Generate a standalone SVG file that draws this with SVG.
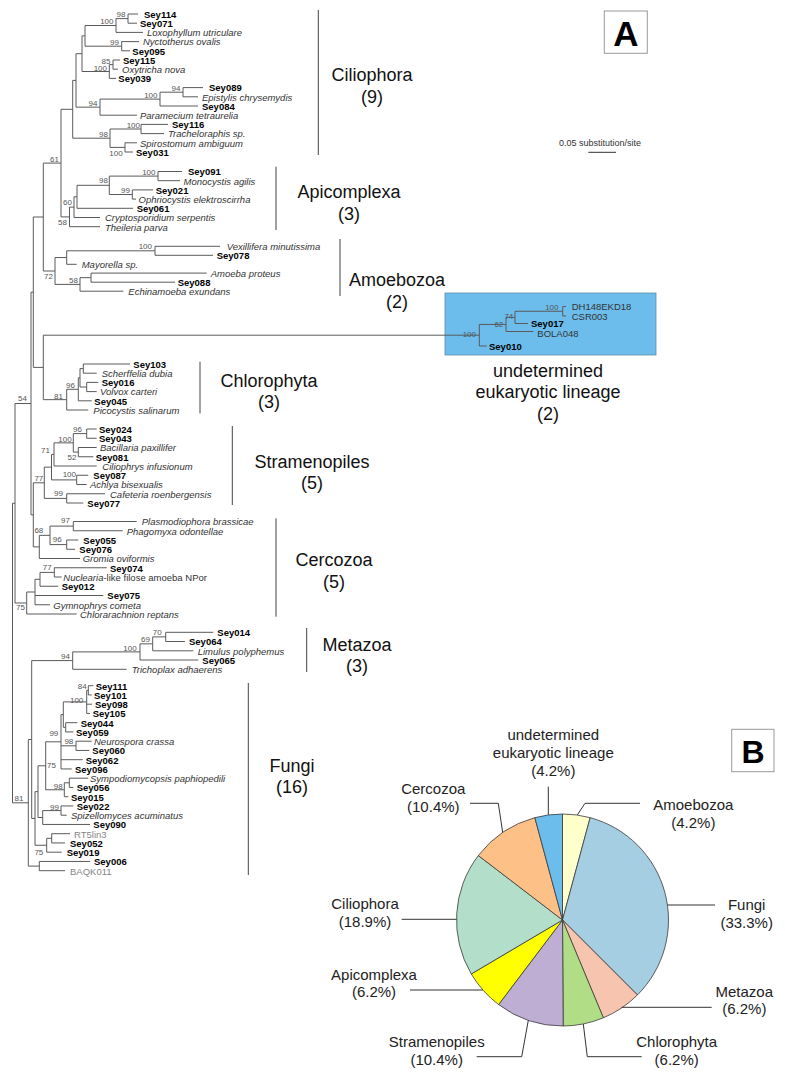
<svg xmlns="http://www.w3.org/2000/svg" width="785" height="1077" viewBox="0 0 785 1077">
<style>
.br{fill:none;stroke:#5a5a5a;stroke-width:1}
.b{font:bold 9.5px "Liberation Sans",Arial,sans-serif;fill:#000}
.i{font:italic 9.5px "Liberation Sans",Arial,sans-serif;fill:#333}
.r{font:9.5px "Liberation Sans",Arial,sans-serif;fill:#333}
.g{font:9.5px "Liberation Sans",Arial,sans-serif;fill:#858585}
.bs{font:8px "Liberation Sans",Arial,sans-serif;fill:#555;text-anchor:end}
.cl{font:18px "Liberation Sans",Arial,sans-serif;fill:#111;text-anchor:middle}
.bar{stroke:#444;stroke-width:1}
.pl{font:15px "Liberation Sans",Arial,sans-serif;fill:#222;text-anchor:middle}
.ld{fill:none;stroke:#333;stroke-width:1}
.sl{stroke:#3a3a3a;stroke-width:0.8}
.pn{fill:#fff;stroke:#999;stroke-width:1}
.pt{font:bold 35px "Liberation Sans",Arial,sans-serif;fill:#000;text-anchor:middle}
</style>
<rect width="785" height="1077" fill="#fff"/>

<!-- undetermined lineage box -->
<rect id="undetermined-box" x="445" y="293" width="211" height="62" fill="#6cbdec" stroke="#5a8fb0" stroke-width="0.8"/>

<!-- connectors: tree branches -->
<g id="branches" class="br">
<path d="M128 14V23.2M128 14H138M128 23.2H137M116 18.6V32.4M116 18.6H128M116 32.4H143M121.7 41.6V50.8M121.7 41.6H139M121.7 50.8H130M85 25.5V46.2M85 25.5H116M85 46.2H121.7M113 60V69.2M113 60H120M113 69.2H118M109.3 64.6V78.4M109.3 64.6H113M109.3 78.4H116M82 35.85V71.5M82 35.85H85M82 71.5H109.3M183 87.6V96.8M183 87.6H203M183 96.8H198M160 92.2V106M160 92.2H183M160 106H198M100 99.1V115.2M100 99.1H160M100 115.2H137M76 53.7V107.15M76 53.7H82M76 107.15H100M141 124.4V133.6M141 124.4H168M141 133.6H164M125 142.8V152M125 142.8H137M125 152H133M110 129V147.4M110 129H141M110 147.4H125M72.7 80.4V138.2M72.7 80.4H76M72.7 138.2H110"/>
<path d="M158 171.5V180.7M158 171.5H182M158 180.7H180M132.3 189.9V199.1M132.3 189.9H153M132.3 199.1H136M109.3 176.1V194.5M109.3 176.1H158M109.3 194.5H132.3M77 185.3V208.3M77 185.3H109.3M77 208.3H133M74 196.8V217.5M74 196.8H77M74 217.5H100M69.5 207.15V226.7M69.5 207.15H74M69.5 226.7H100M61 109.3V216.9M61 109.3H72.7M61 216.9H69.5"/>
<path d="M155 246.3V255.3M155 246.3H220M155 255.3H213M66.7 250.8V264.3M66.7 250.8H155M66.7 264.3H76.7M91 273.1V282.2M91 273.1H206.7M91 282.2H175M80 277.65V291.2M80 277.65H91M80 291.2H123.3M55 257.55V284.4M55 257.55H66.7M55 284.4H80M43.3 163.1V271M43.3 163.1H61M43.3 271H55"/>
<path d="M562.7 306.5V316M562.7 306.5H566M562.7 316H566M515 311.25V323.5M515 311.25H562.7M515 323.5H528M506 317.4V331.5M506 317.4H515M506 331.5H533.3M479.3 324.45V346M479.3 324.45H506M479.3 346H486.7M43.3 335.2V399.65M43.3 335.2H479.3M43.3 399.65H66.7"/>
<path d="M83.3 364V373.2M83.3 364H130M83.3 373.2H96.7M86.7 382.4V391.6M86.7 382.4H98.3M86.7 391.6H96.7M80 368.6V387M80 368.6H83.3M80 387H86.7M78.3 377.8V400.8M78.3 377.8H80M78.3 400.8H91.7M66.7 389.3V410M66.7 389.3H78.3M66.7 410H88.3M33.3 217V367.4M33.3 217H43.3M33.3 367.4H43.3"/>
<path d="M86.7 429V438.25M86.7 429H96.7M86.7 438.25H96.7M78.3 447.5V456.75M78.3 447.5H96.7M78.3 456.75H93.3M73.3 433.6V452.1M73.3 433.6H86.7M73.3 452.1H78.3M54 442.85V466M54 442.85H73.3M54 466H96.7M76.7 475.25V484.5M76.7 475.25H88.3M76.7 484.5H86.7M51.5 454.4V479.9M51.5 454.4H54M51.5 479.9H76.7M66.7 493.75V503M66.7 493.75H105M66.7 503H83.3M44.3 467.15V498.4M44.3 467.15H51.5M44.3 498.4H66.7"/>
<path d="M73.3 521.5V530.75M73.3 521.5H136.7M73.3 530.75H122.7M66.7 540V549.25M66.7 540H78.3M66.7 549.25H75M50 526.1V544.6M50 526.1H73.3M50 544.6H66.7M39.3 535.35V558.5M39.3 535.35H50M39.3 558.5H80M33.3 482.8V546.9M33.3 482.8H44.3M33.3 546.9H39.3M31 292.2V514.85M31 292.2H33.3M31 514.85H33.3M54.3 567.75V577M54.3 567.75H106.7M54.3 577H61.7M40 572.4V586.25M40 572.4H54.3M40 586.25H58.3M35 579.3V604.75M35 579.3H40M35 595.5H103.3M35 604.75H50M26.7 592V614M26.7 592H35M26.7 614H76.7M15 403.5V603M15 403.5H31M15 603H26.7"/>
<path d="M165.7 632.3V641.5M165.7 632.3H213.3M165.7 641.5H185M152.7 636.9V650.8M152.7 636.9H165.7M152.7 650.8H193.3M140 643.85V660M140 643.85H152.7M140 660H198.3M72.7 651.9V669.3M72.7 651.9H140M72.7 669.3H126.7"/>
<path d="M88.3 685.7V694.95M88.3 685.7H93.3M88.3 694.95H91.7M86.7 690.3V713.45M86.7 690.3H88.3M86.7 704.2H92M86.7 713.45H90M65.7 722.7V731.95M65.7 722.7H77.3M65.7 731.95H73.3M63.3 701.9V727.3M63.3 701.9H86.7M63.3 727.3H65.7M76 741.2V750.45M76 741.2H91.7M76 750.45H89.3M61 714.6V768.95M61 714.6H63.3M61 745.8H76M61 759.7H82.7M61 768.95H71.7M69.3 778.2V787.45M69.3 778.2H88.3M69.3 787.45H73.3M64.3 782.8V796.7M64.3 782.8H69.3M64.3 796.7H68.3M45.7 741.8V789.75M45.7 741.8H61M45.7 789.75H64.3M61 805.95V815.2M61 805.95H73.3M61 815.2H66.7M42.7 810.6V824.45M42.7 810.6H61M42.7 824.45H90M38 765.8V817.5M38 765.8H45.7M38 817.5H42.7M51.7 833.7V842.95M51.7 833.7H70M51.7 842.95H65M46.7 838.3V852.2M46.7 838.3H51.7M46.7 852.2H61.7M35 791.65V845.25M35 791.65H38M35 845.25H46.7M39.3 861.45V870.7M39.3 861.45H90M39.3 870.7H65M31.7 660.6V818.45M31.7 660.6H72.7M31.7 818.45H35M28.3 739.5V866.1M28.3 739.5H31.7M28.3 866.1H39.3M12.5 503.25V802.8M12.5 503.25H15M12.5 802.8H28.3"/>
</g>

<!-- bootstrap values -->
<g id="bootstrap" class="bs">
<text x="125.5" y="16.5">98</text><text x="113.5" y="24">100</text><text x="119" y="45">99</text><text x="110.5" y="63.5">85</text><text x="107" y="70.5">100</text><text x="180.5" y="91">94</text><text x="157.5" y="98">100</text><text x="97.5" y="106">94</text><text x="140" y="127.5">100</text><text x="122.7" y="155.5">100</text><text x="108" y="137">98</text><text x="59" y="161.5">61</text>
<text x="155.5" y="174.5">100</text><text x="130" y="192.5">99</text><text x="108" y="183">98</text><text x="72" y="205">60</text><text x="67" y="225">58</text>
<text x="152" y="249">100</text><text x="78" y="283">58</text><text x="53" y="279">72</text>
<text x="558.5" y="310">100</text><text x="513.3" y="318.5">74</text><text x="503.3" y="327">62</text><text x="476" y="336.8">100</text>
<text x="75" y="387.5">96</text><text x="63" y="398.5">81</text><text x="27" y="400.5">54</text>
<text x="82" y="431.5">96</text><text x="71.7" y="441.5">100</text><text x="76.5" y="460">52</text><text x="50" y="453">71</text><text x="76" y="476.5">100</text><text x="63" y="495.5">99</text><text x="43.3" y="481">77</text>
<text x="70" y="522.5">97</text><text x="61.7" y="542">96</text><text x="43.3" y="533">68</text><text x="51.7" y="569.5">77</text><text x="25" y="609.5">75</text>
<text x="161.7" y="634.5">70</text><text x="150" y="641.7">69</text><text x="136.7" y="650.5">100</text><text x="70" y="658.5">94</text>
<text x="86.7" y="689">84</text><text x="83.3" y="702.5">100</text><text x="58.3" y="736">99</text><text x="73.3" y="744.3">98</text><text x="56" y="768">75</text><text x="62.7" y="789.3">98</text><text x="59" y="810">99</text><text x="23.5" y="800.7">81</text><text x="43.3" y="855">75</text>
</g>

<!-- leaves -->
<g id="ciliophora">
<text class="b" x="144" y="17.8">Sey114</text><text class="b" x="140" y="27">Sey071</text><text class="i" x="147" y="36.2">Loxophyllum utriculare</text><text class="i" x="143" y="45.4">Nyctotherus ovalis</text><text class="b" x="132.3" y="54.6">Sey095</text><text class="b" x="123" y="63.8">Sey115</text><text class="i" x="122" y="73">Oxytricha nova</text><text class="b" x="118.3" y="82.2">Sey039</text><text class="b" x="209" y="91.4">Sey089</text><text class="i" x="202" y="100.6">Epistylis chrysemydis</text><text class="b" x="202" y="109.8">Sey084</text><text class="i" x="140" y="119">Paramecium tetraurelia</text><text class="b" x="172" y="128.2">Sey116</text><text class="i" x="168" y="137.4">Tracheloraphis sp.</text><text class="i" x="140" y="146.6">Spirostomum ambiguum</text><text class="b" x="136" y="155.8">Sey031</text>
<line class="bar" x1="318.3" y1="10" x2="318.3" y2="155"/>
<text class="cl" x="372" y="81">Ciliophora</text><text class="cl" x="372" y="103">(9)</text>
</g>
<g id="apicomplexa">
<text class="b" x="188" y="175.3">Sey091</text><text class="i" x="183.5" y="184.5">Monocystis agilis</text><text class="b" x="155.7" y="193.7">Sey021</text><text class="i" x="138.5" y="202.9">Ophriocystis elektroscirrha</text><text class="b" x="136.7" y="212.1">Sey061</text><text class="i" x="105" y="221.3">Cryptosporidium serpentis</text><text class="i" x="105" y="230.5">Theileria parva</text>
<line class="bar" x1="276" y1="166.7" x2="276" y2="230"/>
<text class="cl" x="349" y="198">Apicomplexa</text><text class="cl" x="349" y="220">(3)</text>
</g>
<g id="amoebozoa">
<text class="i" x="226.7" y="250.1">Vexillifera minutissima</text><text class="b" x="216.7" y="259.1">Sey078</text><text class="i" x="81.7" y="268.1">Mayorella sp.</text><text class="i" x="210.7" y="276.9">Amoeba proteus</text><text class="b" x="177.7" y="286">Sey088</text><text class="i" x="128.3" y="295">Echinamoeba exundans</text>
<line class="bar" x1="340" y1="239" x2="340" y2="296"/>
<text class="cl" x="397" y="286">Amoebozoa</text><text class="cl" x="397" y="308">(2)</text>
</g>
<g id="undetermined">
<text class="r" x="571.7" y="310">DH148EKD18</text><text class="r" x="571.7" y="320">CSR003</text><text class="b" x="531" y="327">Sey017</text><text class="r" x="537.3" y="336.5">BOLA048</text><text class="b" x="489" y="350">Sey010</text>
<text class="cl" x="548" y="377">undetermined</text><text class="cl" x="548" y="398">eukaryotic lineage</text><text class="cl" x="548" y="420">(2)</text>
</g>
<g id="chlorophyta">
<text class="b" x="133.3" y="367.8">Sey103</text><text class="i" x="101.7" y="377">Scherffelia dubia</text><text class="b" x="101.7" y="386.2">Sey016</text><text class="i" x="100" y="395.4">Volvox carteri</text><text class="b" x="94.3" y="404.6">Sey045</text><text class="i" x="93.3" y="413.8">Picocystis salinarum</text>
<line class="bar" x1="200" y1="361.7" x2="200" y2="413.3"/>
<text class="cl" x="269" y="387">Chlorophyta</text><text class="cl" x="269" y="408">(3)</text>
</g>
<g id="stramenopiles">
<text class="b" x="99" y="432.8">Sey024</text><text class="b" x="99" y="442.05">Sey043</text><text class="i" x="100" y="451.3">Bacillaria paxillifer</text><text class="b" x="95.7" y="460.55">Sey081</text><text class="i" x="102.3" y="469.8">Ciliophrys infusionum</text><text class="b" x="93.3" y="479.05">Sey087</text><text class="i" x="90" y="488.3">Achlya bisexualis</text><text class="i" x="110" y="497.55">Cafeteria roenbergensis</text><text class="b" x="87.3" y="506.8">Sey077</text>
<line class="bar" x1="232.3" y1="426" x2="232.3" y2="505"/>
<text class="cl" x="312" y="468">Stramenopiles</text><text class="cl" x="312" y="489">(5)</text>
</g>
<g id="cercozoa">
<text class="i" x="141.7" y="525.3">Plasmodiophora brassicae</text><text class="i" x="126.7" y="534.55">Phagomyxa odontellae</text><text class="b" x="83.3" y="543.8">Sey055</text><text class="b" x="79.3" y="553.05">Sey076</text><text class="i" x="82.7" y="562.3">Gromia oviformis</text><text class="b" x="110" y="571.55">Sey074</text><text class="r" x="63.3" y="580.8"><tspan font-style="italic">Nuclearia</tspan>-like filose amoeba NPor</text><text class="b" x="61.7" y="590.05">Sey012</text><text class="b" x="107.3" y="599.3">Sey075</text><text class="i" x="53.3" y="608.55">Gymnophrys cometa</text><text class="i" x="80" y="617.8">Chlorarachnion reptans</text>
<line class="bar" x1="276" y1="518.3" x2="276" y2="616.7"/>
<text class="cl" x="334" y="566">Cercozoa</text><text class="cl" x="334" y="588">(5)</text>
</g>
<g id="metazoa">
<text class="b" x="217.3" y="636.1">Sey014</text><text class="b" x="189" y="645.3">Sey064</text><text class="i" x="197.7" y="654.6">Limulus polyphemus</text><text class="b" x="202.3" y="663.8">Sey065</text><text class="i" x="131.7" y="673.1">Trichoplax adhaerens</text>
<line class="bar" x1="306.7" y1="628" x2="306.7" y2="672"/>
<text class="cl" x="357" y="651">Metazoa</text><text class="cl" x="357" y="672">(3)</text>
</g>
<g id="fungi">
<text class="b" x="95.7" y="689.5">Sey111</text><text class="b" x="94" y="698.75">Sey101</text><text class="b" x="95" y="708">Sey098</text><text class="b" x="92.7" y="717.25">Sey105</text><text class="b" x="80.7" y="726.5">Sey044</text><text class="b" x="76" y="735.75">Sey059</text><text class="i" x="94" y="745">Neurospora crassa</text><text class="b" x="92.3" y="754.25">Sey060</text><text class="b" x="85.7" y="763.5">Sey062</text><text class="b" x="75" y="772.75">Sey096</text><text class="i" x="90" y="782">Sympodiomycopsis paphiopedili</text><text class="b" x="76.7" y="791.25">Sey056</text><text class="b" x="71" y="800.5">Sey015</text><text class="b" x="76.7" y="809.75">Sey022</text><text class="i" x="71" y="819">Spizellomyces acuminatus</text><text class="b" x="93.3" y="828.25">Sey090</text><text class="g" x="74" y="837.5">RT5lin3</text><text class="b" x="70" y="846.75">Sey052</text><text class="b" x="66.7" y="856">Sey019</text><text class="b" x="94" y="865.25">Sey006</text><text class="g" x="70" y="874.5">BAQK011</text>
<line class="bar" x1="248.3" y1="683" x2="248.3" y2="875"/>
<text class="cl" x="292" y="772">Fungi</text><text class="cl" x="292" y="793">(16)</text>
</g>

<!-- panel A label and scale -->
<g id="panel-a">
<rect class="pn" x="604.3" y="11" width="43" height="42.3"/>
<text class="pt" x="626" y="45.7">A</text>
</g>
<g id="scale">
<text x="559" y="146" style="font:9px 'Liberation Sans',Arial,sans-serif;fill:#333">0.05 substitution/site</text>
<line x1="588.3" y1="152.3" x2="616" y2="152.3" stroke="#333" stroke-width="1"/>
</g>

<!-- panel B pie -->
<g id="panel-b">
<rect class="pn" x="731.7" y="729.3" width="42.3" height="42.4"/>
<text class="pt" x="753" y="763.3" style="font-size:32px">B</text>
</g>
<g id="pie">
<path id="s-amoebozoa" class="sl" fill="#ffffcc" d="M562.5 920L562.5 814A106 106 0 0 1 590.15 817.67Z"/>
<path id="s-fungi" class="sl" fill="#a6cee3" d="M562.5 920L590.15 817.67A106 106 0 0 1 637.45 994.95Z"/>
<path id="s-metazoa" class="sl" fill="#f7c4b0" d="M562.5 920L637.45 994.95A106 106 0 0 1 603.37 1017.81Z"/>
<path id="s-chlorophyta" class="sl" fill="#b2dd87" d="M562.5 920L603.37 1017.81A106 106 0 0 1 563.17 1026Z"/>
<path id="s-stramenopiles" class="sl" fill="#beaed4" d="M562.5 920L563.17 1026A106 106 0 0 1 498.58 1004.56Z"/>
<path id="s-apicomplexa" class="sl" fill="#ffff00" d="M562.5 920L498.58 1004.56A106 106 0 0 1 471.27 973.95Z"/>
<path id="s-ciliophora" class="sl" fill="#b3dec9" d="M562.5 920L471.27 973.95A106 106 0 0 1 478.34 855.55Z"/>
<path id="s-cercozoa" class="sl" fill="#fdc086" d="M562.5 920L478.34 855.55A106 106 0 0 1 534.85 817.67Z"/>
<path id="s-undetermined" class="sl" fill="#6cbdec" d="M562.5 920L534.85 817.67A106 106 0 0 1 562.5 814Z"/>
</g>
<g id="pie-leaders" class="ld">
<path d="M548.3 786.7V814.8"/>
<path d="M640 803.3H585L577.3 815"/>
<path d="M667.4 905H715"/>
<path d="M621.5 1007.3H711.7"/>
<path d="M583.3 1024L587.3 1056.7H641.7"/>
<path d="M528.3 1020.3L521.7 1056.7H476.7"/>
<path d="M482.9 990H410"/>
<path d="M456.5 919.3H401.7"/>
<path d="M470 803.3H498.3L502.7 832.5"/>
</g>
<g id="pie-labels" class="pl">
<text x="553.3" y="740">undetermined</text><text x="553.3" y="757.5">eukaryotic lineage</text><text x="553.3" y="775.5">(4.2%)</text>
<text x="693.3" y="810">Amoebozoa</text><text x="693.3" y="827.5">(4.2%)</text>
<text x="746.7" y="910">Fungi</text><text x="746.7" y="927.5">(33.3%)</text>
<text x="744.3" y="996.7">Metazoa</text><text x="744.3" y="1014.3">(6.2%)</text>
<text x="676.7" y="1047.3">Chlorophyta</text><text x="676.7" y="1065">(6.2%)</text>
<text x="436.7" y="1047.3">Stramenopiles</text><text x="436.7" y="1065">(10.4%)</text>
<text x="374" y="980">Apicomplexa</text><text x="374" y="997.3">(6.2%)</text>
<text x="365" y="909.3">Ciliophora</text><text x="365" y="926.7">(18.9%)</text>
<text x="433.3" y="794.3">Cercozoa</text><text x="433.3" y="811.7">(10.4%)</text>
</g>
</svg>
